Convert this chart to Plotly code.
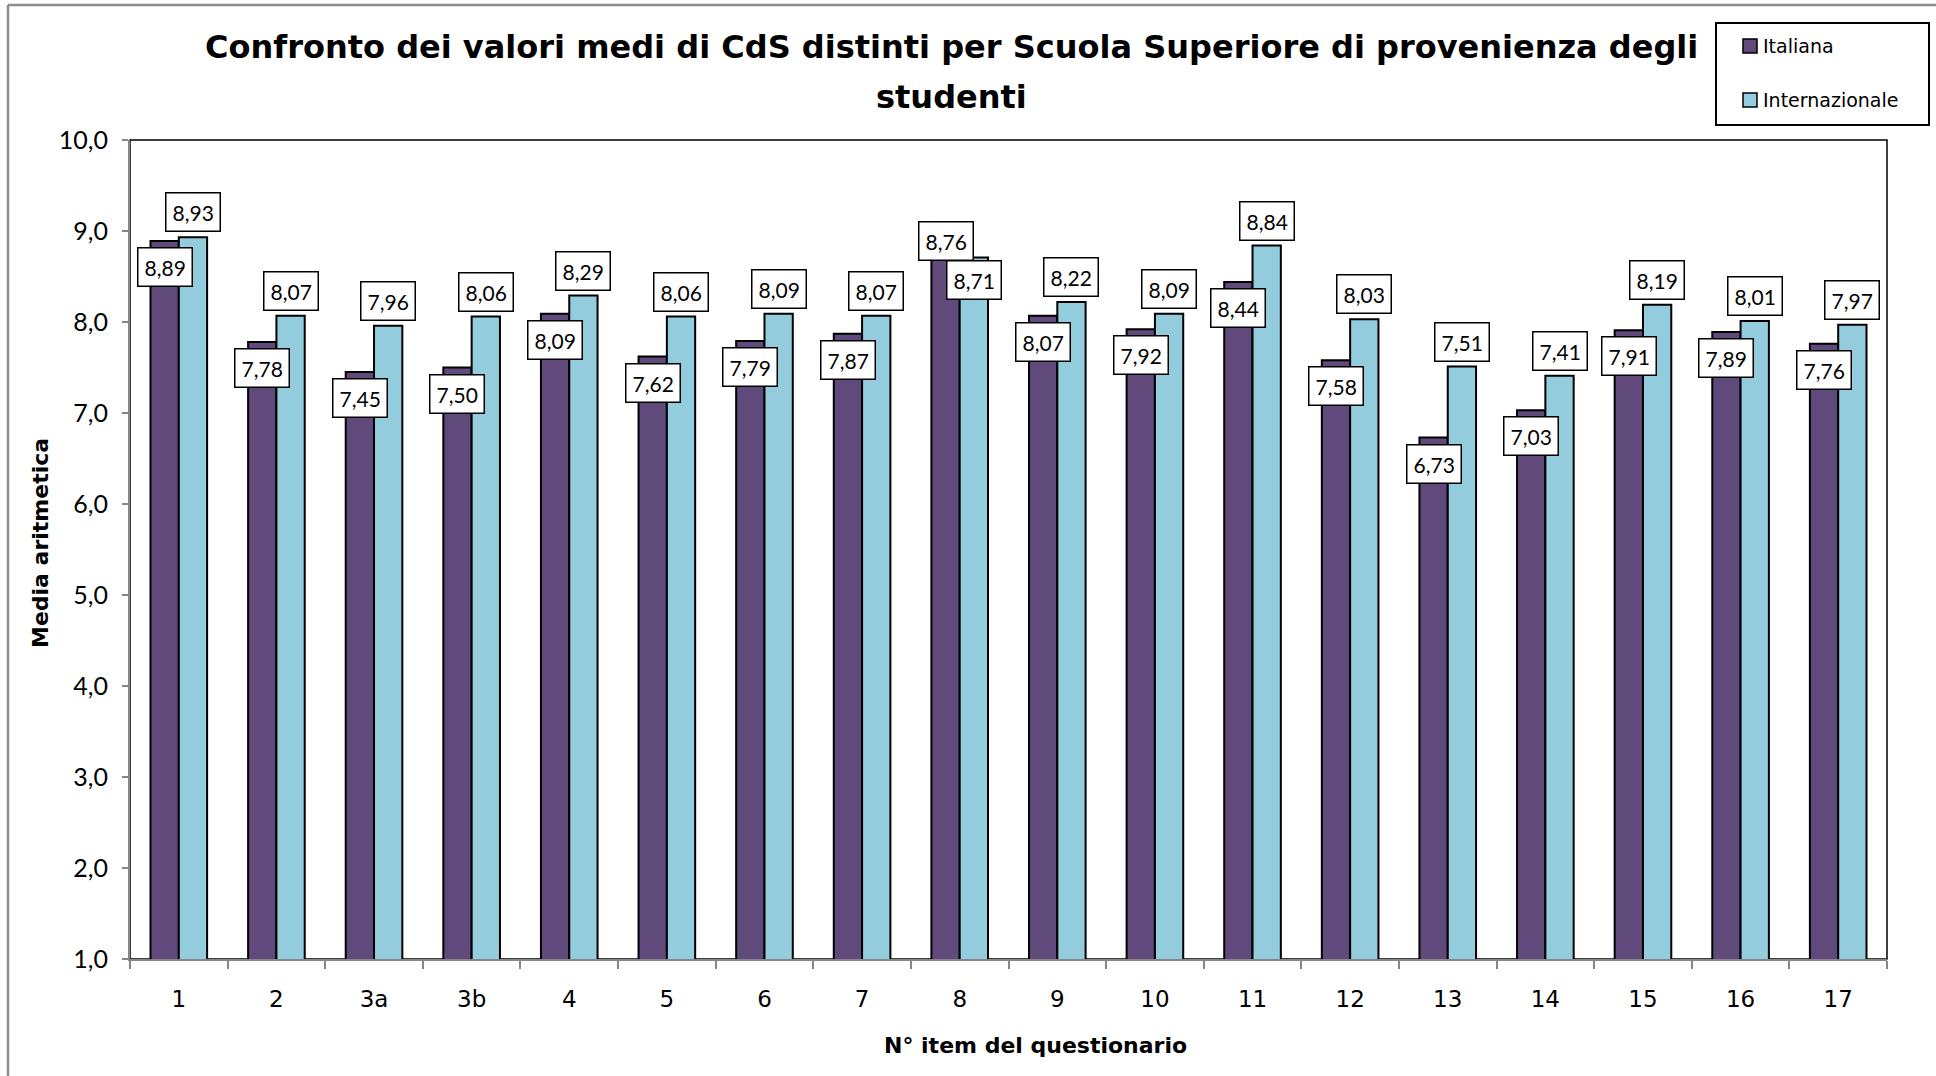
import plotly.graph_objects as go

categories = ["1", "2", "3a", "3b", "4", "5", "6", "7", "8", "9", "10", "11", "12", "13", "14", "15", "16", "17"]
italiana = [8.89, 7.78, 7.45, 7.50, 8.09, 7.62, 7.79, 7.87, 8.76, 8.07, 7.92, 8.44, 7.58, 6.73, 7.03, 7.91, 7.89, 7.76]
internazionale = [8.93, 8.07, 7.96, 8.06, 8.29, 8.06, 8.09, 8.07, 8.71, 8.22, 8.09, 8.84, 8.03, 7.51, 7.41, 8.19, 8.01, 7.97]

W, H = 1936, 1076
ML, MR, MT, MB = 130, 49, 140, 117
PW = W - ML - MR
PH = H - MT - MB

def px(x):
    return (x - ML) / PW

def py(y):
    return 1 - (y - MT) / PH

COL_ITA = "#604A7B"
COL_INT = "#93CDDD"
CAL = "Lato"
COMIC = "DejaVu Sans"

fig = go.Figure()
fig.add_trace(go.Bar(name="Italiana", x=categories, y=italiana, marker=dict(color=COL_ITA, line=dict(color="black", width=2))))
fig.add_trace(go.Bar(name="Internazionale", x=categories, y=internazionale, marker=dict(color=COL_INT, line=dict(color="black", width=2))))

bargap = 0.42
off = (1 - bargap) / 4

annotations = []
for i, (a, b) in enumerate(zip(italiana, internazionale)):
    if a > b:
        sa, sb = 12, -23
    else:
        sa, sb = -26, 25
    for val, dx, sh in ((a, -off, sa), (b, off, sb)):
        annotations.append(dict(
            x=i + dx, y=val, xref="x", yref="y", text=f"{val:.2f}".replace(".", ","),
            showarrow=False, yshift=sh, font=dict(family=CAL, size=21, color="black"),
            bgcolor="white", bordercolor="black", borderwidth=1.5, borderpad=6,
        ))

title_lines = ["Confronto dei valori medi di CdS distinti per Scuola Superiore di provenienza degli", "studenti"]
for line, yy in zip(title_lines, (47, 97)):
    annotations.append(dict(
        x=px(951), y=py(yy), xref="paper", yref="paper", text=line,
        showarrow=False, xanchor="center", yanchor="middle",
        font=dict(family=COMIC, size=32, color="black", weight="bold"),
    ))
annotations.append(dict(
    x=px(40), y=py(543), xref="paper", yref="paper", text="Media aritmetica", textangle=-90,
    showarrow=False, xanchor="center", yanchor="middle",
    font=dict(family=COMIC, size=22, color="black", weight="bold"),
))
annotations.append(dict(
    x=px(1035), y=py(1045), xref="paper", yref="paper", text="N° item del questionario",
    showarrow=False, xanchor="center", yanchor="middle",
    font=dict(family=COMIC, size=22, color="black", weight="bold"),
))

shapes = [
    dict(type="rect", xref="paper", yref="paper", x0=0, y0=0, x1=1, y1=1,
         line=dict(color="black", width=1.5), layer="below"),
    dict(type="line", xref="paper", yref="paper", x0=px(8), y0=py(5), x1=px(8), y1=py(1080),
         line=dict(color="#8C8C8C", width=2.5)),
    dict(type="line", xref="paper", yref="paper", x0=px(8), y0=py(5), x1=px(1940), y1=py(5),
         line=dict(color="#8C8C8C", width=2.5)),
    # legend box
    dict(type="rect", xref="paper", yref="paper", x0=px(1716), y0=py(23), x1=px(1929), y1=py(125),
         line=dict(color="black", width=2), fillcolor="white"),
]

legend_items = [("Italiana", COL_ITA, 46), ("Internazionale", COL_INT, 100)]
for name, col, yc in legend_items:
    shapes.append(dict(type="rect", xref="paper", yref="paper",
                       x0=px(1743), x1=px(1757), y0=py(yc - 7), y1=py(yc + 7),
                       line=dict(color="black", width=1.5), fillcolor=col))
    annotations.append(dict(
        x=px(1761), y=py(yc), xref="paper", yref="paper", text=name,
        showarrow=False, xanchor="left", yanchor="middle",
        font=dict(family=COMIC, size=19, color="black"),
    ))

fig.update_layout(
    width=W, height=H,
    margin=dict(l=ML, r=MR, t=MT, b=MB, autoexpand=False),
    paper_bgcolor="white", plot_bgcolor="white",
    separators=",.",
    barmode="group", bargap=bargap, bargroupgap=0,
    annotations=annotations, shapes=shapes,
    showlegend=False,
)
fig.update_xaxes(
    type="category", showline=True, linecolor="#868686", linewidth=2, automargin=False,
    ticks="outside", tickson="boundaries", ticklen=8, tickcolor="#868686", tickwidth=2,
    ticklabelstandoff=18,
    tickfont=dict(family=COMIC, size=23, color="black"), showgrid=False,
)
fig.update_yaxes(
    range=[1, 10], dtick=1, tickformat=".1f", showline=True, linecolor="#868686", linewidth=2,
    automargin=False, ticklabelstandoff=9,
    ticks="outside", ticklen=6, tickcolor="#868686", tickwidth=2,
    tickfont=dict(family=CAL, size=25, color="black"), showgrid=False, zeroline=False,
)

fig.write_html("out.html", config={"displayModeBar": False},
               post_script="document.body.style.margin='0px';document.body.style.overflow='hidden';")
